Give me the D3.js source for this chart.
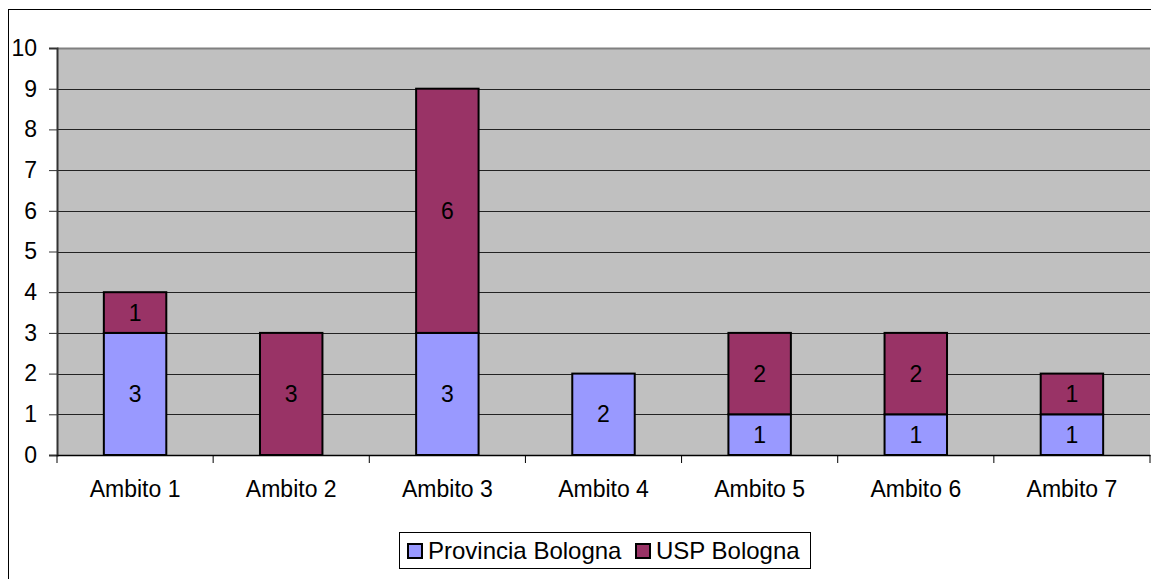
<!DOCTYPE html>
<html>
<head>
<meta charset="utf-8">
<script src="https://cdn.jsdelivr.net/npm/d3@7"></script>
<style>
  body { margin: 0; background: #fff; }
  svg text { font-family: "Liberation Sans", Arial, sans-serif; fill: #000; }
</style>
</head>
<body>
<svg id="chart" width="1151" height="579"></svg>
<script>
// data
var categories = ["Ambito 1", "Ambito 2", "Ambito 3", "Ambito 4", "Ambito 5", "Ambito 6", "Ambito 7"];
var provincia = [3, 0, 3, 2, 1, 1, 1];
var usp = [1, 3, 6, 0, 2, 2, 1];
var seriesNames = ["Provincia Bologna", "USP Bologna"];
var seriesColors = ["#9999FF", "#993366"];
var yTicks = d3.range(0, 11);

var fs = 23;
var svg = d3.select("#chart");
var m = {left: 57, top: 48, right: 1150, bottom: 455};

// outer chart border
svg.append("rect").attr("x", 8.5).attr("y", 9.5).attr("width", 1160).attr("height", 600)
  .attr("fill", "none").attr("stroke", "#000").attr("stroke-width", 1);

var x = d3.scaleBand().domain(categories).range([m.left, m.right]).paddingInner(0.6).paddingOuter(0.3);
var xc = d3.scaleBand().domain(categories).range([m.left, m.right]);
var y = d3.scaleLinear().domain([0, 10]).range([m.bottom, m.top]);

// plot area
svg.append("rect").attr("x", m.left).attr("y", m.top).attr("width", m.right - m.left).attr("height", m.bottom - m.top)
  .attr("fill", "#C0C0C0");
svg.append("line").attr("x1", m.left).attr("x2", m.right).attr("y1", m.top + 0.5).attr("y2", m.top + 0.5)
  .attr("stroke", "#808080").attr("stroke-width", 2);

// gridlines
svg.append("g").selectAll("line").data(yTicks.filter(function(d) { return d > 0 && d < 10; }))
  .enter().append("line")
  .attr("x1", m.left).attr("x2", m.right)
  .attr("y1", function(d) { return Math.round(y(d)) + 0.5; })
  .attr("y2", function(d) { return Math.round(y(d)) + 0.5; })
  .attr("stroke", "#222").attr("stroke-width", 1);

// stacked bars
var rows = categories.map(function(c, i) { return {cat: c, p: provincia[i], u: usp[i]}; });
var stack = d3.stack().keys(["p", "u"])(rows);

var layers = svg.append("g").selectAll("g").data(stack).enter().append("g")
  .attr("fill", function(d, i) { return seriesColors[i]; });

layers.selectAll("rect").data(function(d) { return d.filter(function(s) { return s[1] > s[0]; }); })
  .enter().append("rect")
  .attr("x", function(d) { return x(d.data.cat); })
  .attr("width", x.bandwidth())
  .attr("y", function(d) { return y(d[1]); })
  .attr("height", function(d) { return y(d[0]) - y(d[1]); })
  .attr("stroke", "#000").attr("stroke-width", 2);

layers.selectAll("text").data(function(d) { return d.filter(function(s) { return s[1] > s[0]; }); })
  .enter().append("text")
  .attr("x", function(d) { return x(d.data.cat) + x.bandwidth() / 2; })
  .attr("y", function(d) { return (y(d[0]) + y(d[1])) / 2; })
  .attr("dy", "0.35em")
  .attr("text-anchor", "middle")
  .style("font-size", fs + "px")
  .text(function(d) { return d[1] - d[0]; });

// y axis
var yAxis = svg.append("g").attr("transform", "translate(" + m.left + ",0)")
  .call(d3.axisLeft(y).tickValues(yTicks).tickSize(8).tickPadding(12));
yAxis.attr("font-size", null).attr("font-family", null);
yAxis.select(".domain").attr("stroke", "#333").attr("stroke-width", 2);
yAxis.selectAll(".tick line").attr("stroke", "#333");
yAxis.selectAll(".tick text").style("font-size", fs + "px");

// x axis
var xAxis = svg.append("g").attr("transform", "translate(0," + m.bottom + ")")
  .call(d3.axisBottom(xc).tickSize(0).tickPadding(28));
xAxis.attr("font-size", null).attr("font-family", null);
xAxis.select(".domain").attr("stroke", "#000").attr("stroke-width", 1.5);
xAxis.selectAll(".tick text").style("font-size", fs + "px").attr("dy", null).attr("y", 42);
svg.append("g").selectAll("line").data(d3.range(categories.length + 1)).enter().append("line")
  .attr("x1", function(i) { return m.left + i * xc.step(); })
  .attr("x2", function(i) { return m.left + i * xc.step(); })
  .attr("y1", m.bottom).attr("y2", m.bottom + 8)
  .attr("stroke", "#000");

// legend
var lg = svg.append("g");
lg.append("rect").attr("x", 399.5).attr("y", 532.5).attr("width", 411).attr("height", 36)
  .attr("fill", "#fff").attr("stroke", "#000");
var lx = [408, 636];
seriesNames.forEach(function(name, i) {
  lg.append("rect").attr("x", lx[i]).attr("y", 544).attr("width", 14).attr("height", 14)
    .attr("fill", seriesColors[i]).attr("stroke", "#000").attr("stroke-width", 2);
  lg.append("text").attr("x", lx[i] + 20).attr("y", 559)
    .style("font-size", "24px").text(name);
});
</script>
</body>
</html>
